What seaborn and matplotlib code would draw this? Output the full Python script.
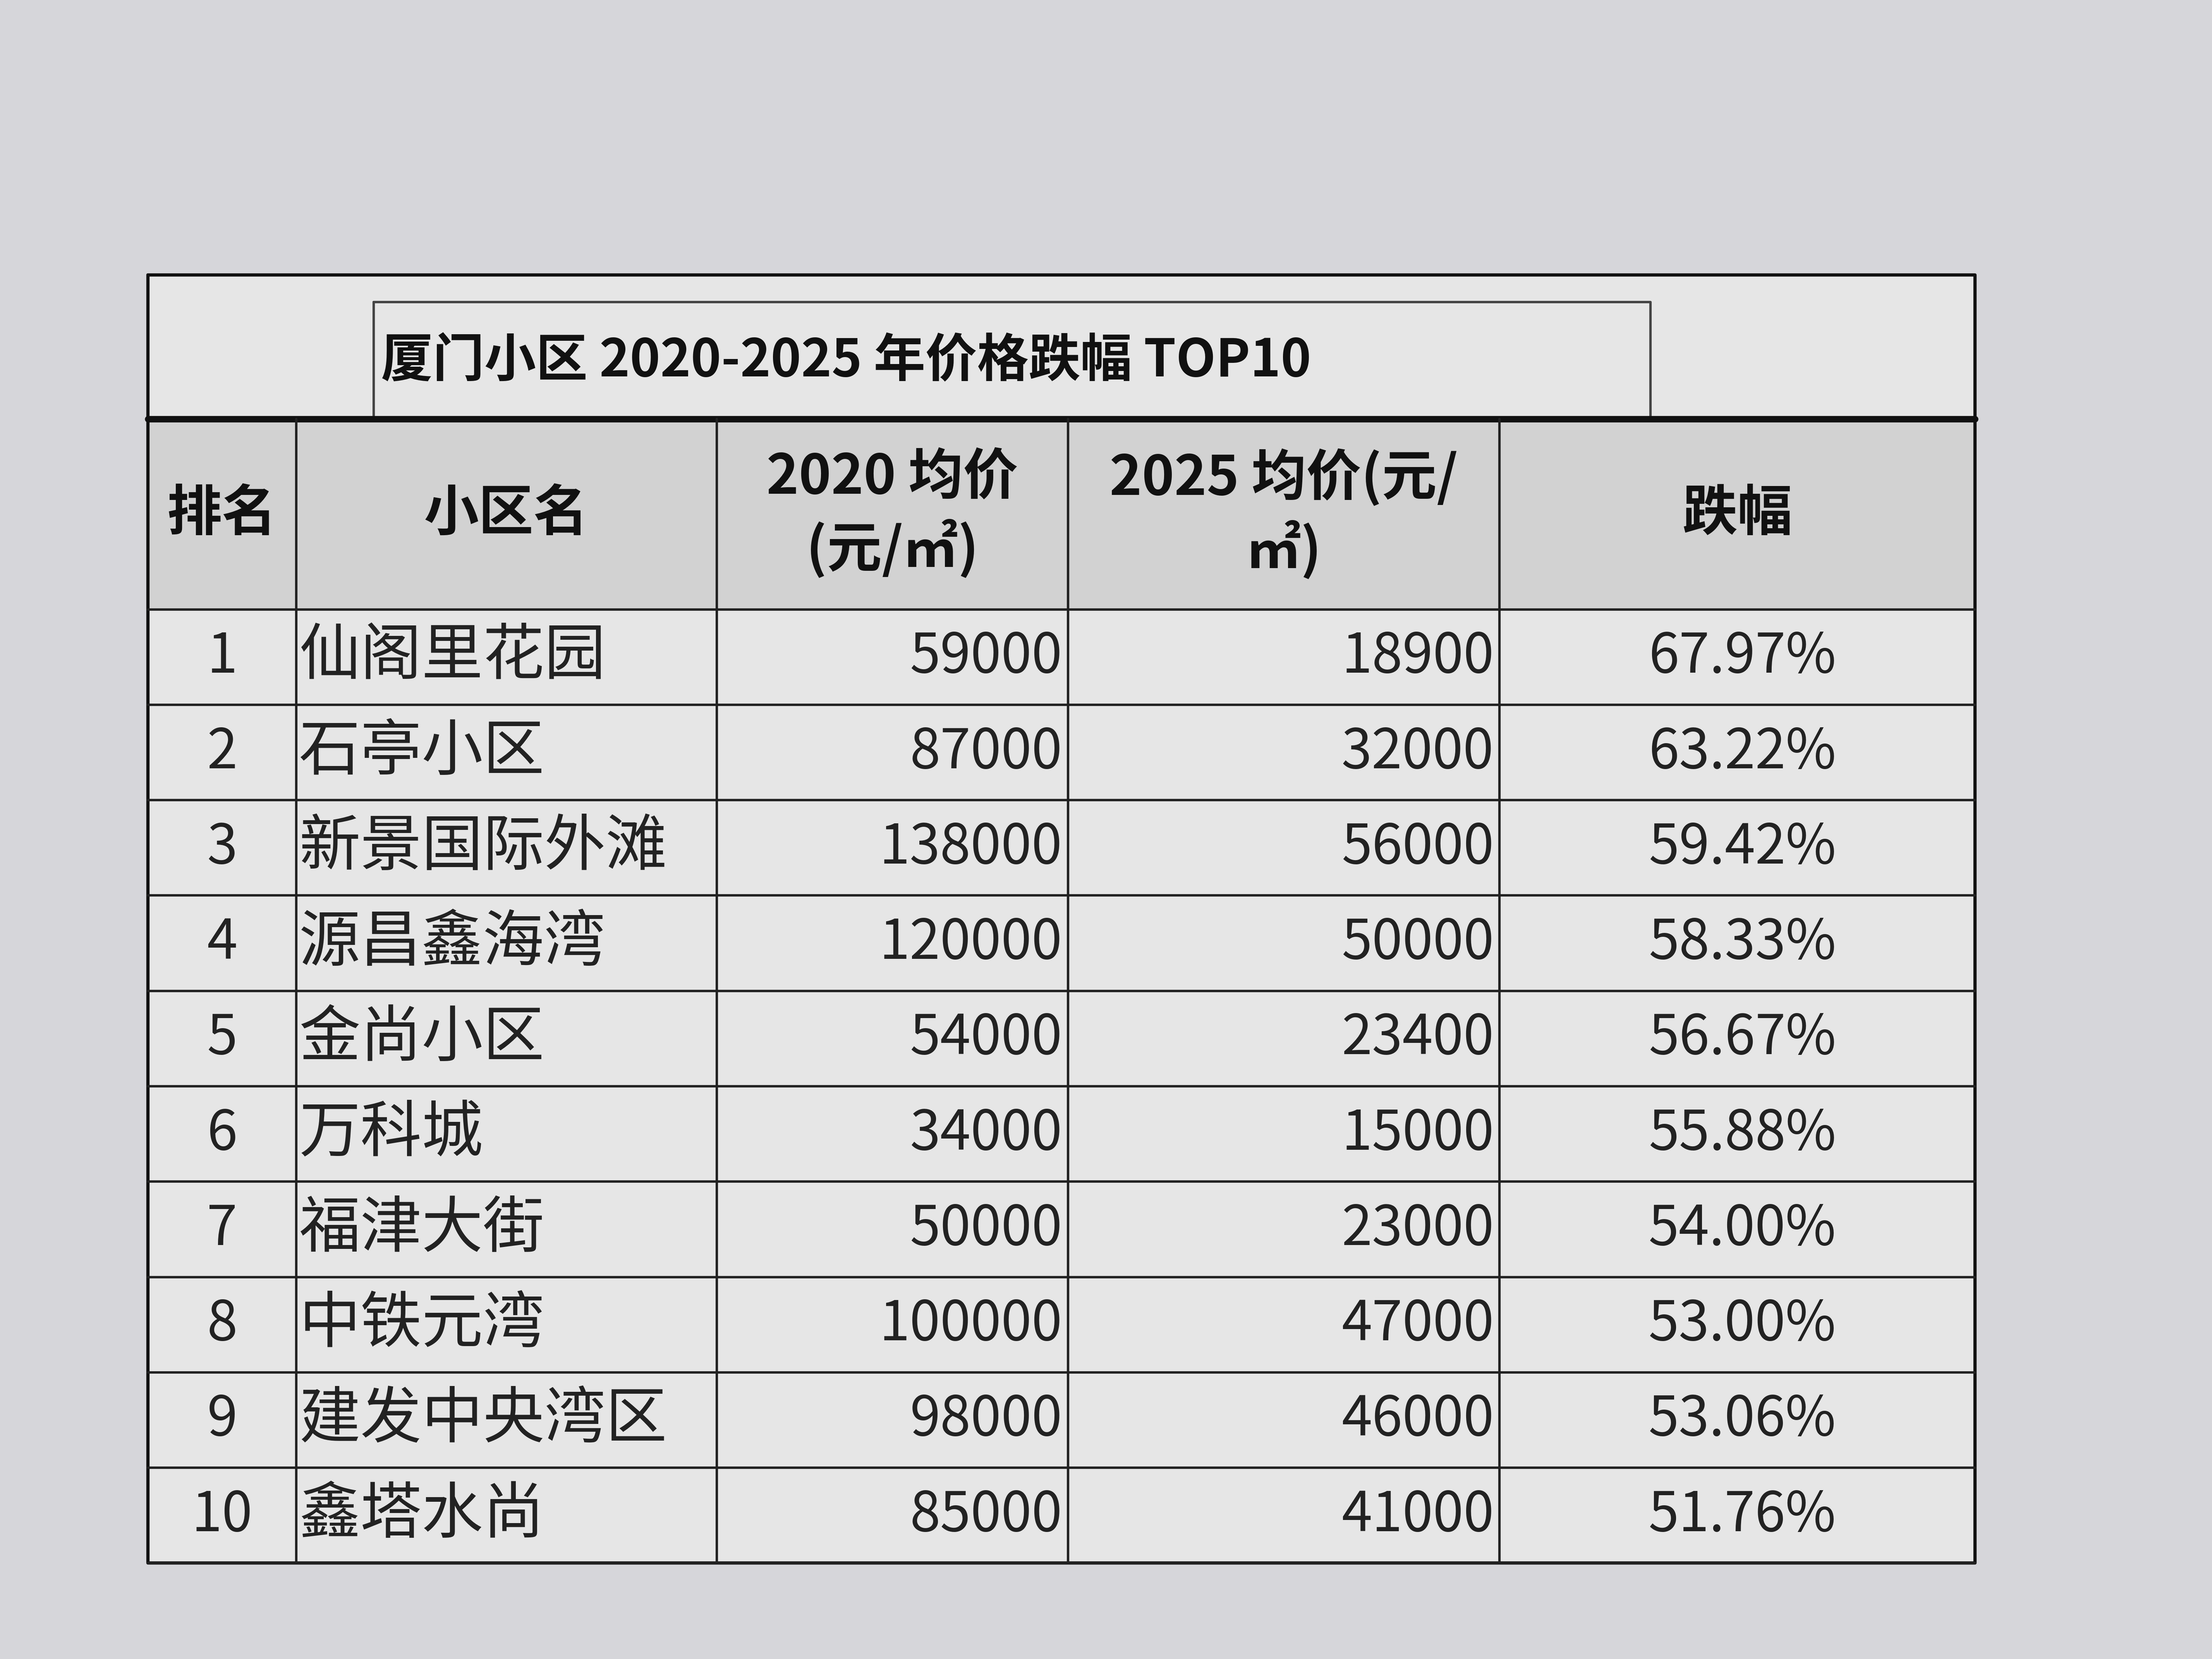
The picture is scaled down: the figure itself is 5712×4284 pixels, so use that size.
import matplotlib.pyplot as plt
import seaborn as sns

sns.set_theme(style="white")
plt.rcParams['font.family'] = ['Noto Sans CJK SC', 'DejaVu Sans']

# Table data
title = "厦门小区 2020-2025 年价格跌幅 TOP10"
headers = ["排名", "小区名", "2020 均价\n(元/㎡)", "2025 均价(元/\n㎡)", "跌幅"]
ranks = [1, 2, 3, 4, 5, 6, 7, 8, 9, 10]
names = ["仙阁里花园", "石亭小区", "新景国际外滩", "源昌鑫海湾", "金尚小区",
         "万科城", "福津大街", "中铁元湾", "建发中央湾区", "鑫塔水尚"]
price_2020 = [59000, 87000, 138000, 120000, 54000, 34000, 50000, 100000, 98000, 85000]
price_2025 = [18900, 32000, 56000, 50000, 23400, 15000, 23000, 47000, 46000, 41000]
drop = ["67.97%", "63.22%", "59.42%", "58.33%", "56.67%",
        "55.88%", "54.00%", "53.00%", "53.06%", "51.76%"]

# layout in reference display pixels
W, H = 1568, 1176
left, right = 105, 1400
top, title_bottom, header_bottom, bottom = 195, 297, 432, 1108
cols = [left, 210, 508, 757, 1063, right]
row_h = (bottom - header_bottom) / len(ranks)

fig = plt.figure(figsize=(19.04, 14.28), dpi=300)
fig.patch.set_facecolor("#d6d6da")
ax = fig.add_axes([0, 0, 1, 1])
ax.set_xlim(0, W)
ax.set_ylim(H, 0)
ax.axis("off")

# table backgrounds
ax.fill_between([left, right], top, bottom, color="#e6e6e6", zorder=1)
ax.fill_between([left, right], title_bottom, header_bottom, color="#d2d2d2", zorder=1)

# title box
ax.plot([265, 1170, 1170, 265, 265], [214, 214, 297, 297, 214], color="#444", lw=1.5, zorder=3)
ax.text(270, 256, title, fontsize=32, fontweight="bold", va="center", ha="left", color="#111", zorder=4)

# grid lines
ax.plot([left, right, right, left, left], [top, top, bottom, bottom, top], color="#111", lw=2, zorder=3)
ax.plot([left, right], [title_bottom, title_bottom], color="#111", lw=4, zorder=3)
for i in range(len(ranks) + 1):
    y = header_bottom + i * row_h
    ax.plot([left, right], [y, y], color="#222", lw=1.5, zorder=3)
for x in cols[1:-1]:
    ax.plot([x, x], [title_bottom, bottom], color="#222", lw=1.5, zorder=3)

# headers
hy = (title_bottom + header_bottom) / 2
for i, h in enumerate(headers):
    cx = (cols[i] + cols[i + 1]) / 2
    ax.text(cx, hy, h, fontsize=34, ha="center", va="center", fontweight="bold",
            color="#111", linespacing=1.3, zorder=4)

# rows
for i in range(len(ranks)):
    y = header_bottom + (i + 0.5) * row_h
    ax.text((cols[0] + cols[1]) / 2, y, str(ranks[i]), fontsize=34, ha="center", va="center", color="#222", zorder=4)
    ax.text(cols[1] + 2, y, names[i], fontsize=38, ha="left", va="center", color="#222", zorder=4)
    ax.text(cols[3] - 4, y, str(price_2020[i]), fontsize=34, ha="right", va="center", color="#222", zorder=4)
    ax.text(cols[4] - 4, y, str(price_2025[i]), fontsize=34, ha="right", va="center", color="#222", zorder=4)
    ax.text(1235, y, drop[i], fontsize=34, ha="center", va="center", color="#222", zorder=4)

fig.savefig("out.png", dpi=300)
